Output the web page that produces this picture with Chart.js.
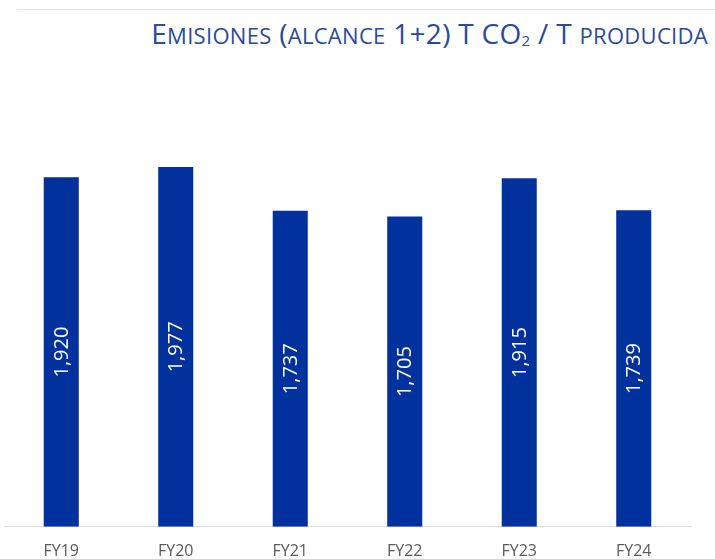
<!DOCTYPE html>
<html>
<head>
<meta charset="utf-8">
<script src="https://cdn.jsdelivr.net/npm/chart.js@4/dist/chart.umd.min.js"></script>
<style>
    body { margin: 0; background: #fff; }
    .wrap { position: relative; width: 715px; height: 559px; overflow: hidden; }
    .top-line { position: absolute; left: 17px; right: 0; top: 9px; border-top: 1px solid #e3e3e3; }
    .chart-title {
        position: absolute; right: 7px; top: 14px; line-height: 38px;
        font-family: 'Open Sans', sans-serif; font-size: 28px; letter-spacing: 0.3px;
        color: #2a4a9c; white-space: nowrap;
    }
    .chart-title .sc { font-size: 22px; }
    .chart-title sub { font-size: 15px; vertical-align: -2px; }
    canvas { position: absolute; left: 0; top: 0; }
</style>
</head>
<body>
<div class="wrap">
    <div class="top-line"></div>
    <div class="chart-title">E<span class="sc">MISIONES</span> (<span class="sc">ALCANCE</span> 1+2) T CO<sub>2</sub> / T <span class="sc">PRODUCIDA</span></div>
    <canvas id="emisionesChart" width="715" height="559"></canvas>
</div>
<script>
const years = ['FY19', 'FY20', 'FY21', 'FY22', 'FY23', 'FY24'];
const emisiones = [1.920, 1.977, 1.737, 1.705, 1.915, 1.739];

// etiquetas giradas dentro de cada barra
const barLabels = {
    id: 'barLabels',
    afterDatasetsDraw(chart) {
        const ctx = chart.ctx;
        const meta = chart.getDatasetMeta(0);
        ctx.save();
        ctx.fillStyle = '#ffffff';
        ctx.font = '20px "Open Sans", sans-serif';
        ctx.textAlign = 'center';
        ctx.textBaseline = 'middle';
        meta.data.forEach((bar, i) => {
            const value = emisiones[i].toFixed(3).replace('.', ',');
            ctx.save();
            ctx.translate(bar.x, (bar.y + bar.base) / 2);
            ctx.rotate(-Math.PI / 2);
            ctx.fillText(value, 0, 1);
            ctx.restore();
        });
        ctx.restore();
    }
};

const ctx = document.getElementById('emisionesChart').getContext('2d');
new Chart(ctx, {
    type: 'bar',
    data: {
        labels: years,
        datasets: [{
            data: emisiones,
            backgroundColor: '#00319c',
            barPercentage: 0.306,
            categoryPercentage: 1
        }]
    },
    options: {
        responsive: false,
        animation: false,
        layout: {
            padding: { top: 90, left: 4, right: 24, bottom: -17 }
        },
        scales: {
            x: {
                grid: { display: false, drawTicks: false },
                border: { display: true, color: '#dcdcdc', width: 1 },
                ticks: {
                    color: '#5a5a5a',
                    padding: 15,
                    font: { family: "'Open Sans', sans-serif", size: 16 }
                }
            },
            y: {
                display: false,
                min: 0,
                max: 2.4
            }
        },
        plugins: {
            legend: { display: false },
            tooltip: { enabled: false }
        }
    },
    plugins: [barLabels]
});
</script>
</body>
</html>
